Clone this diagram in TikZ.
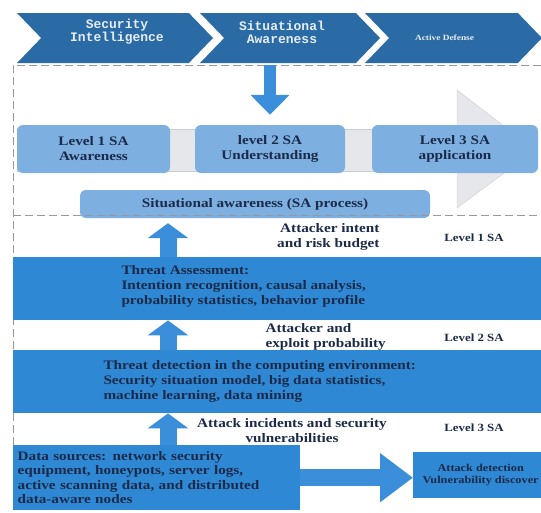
\documentclass[tikz,border=0pt]{standalone}
\usepackage{fontspec}
\setmainfont{Liberation Serif}[FakeStretch=1.17]
\setmonofont{Liberation Mono}
\usepackage{tikz}
\usetikzlibrary{arrows.meta,calc,positioning,shapes.symbols}
\definecolor{bannerBlue}{HTML}{2B6BA5}
\definecolor{bandBlue}{HTML}{2F88D4}
\definecolor{arrowBlue}{HTML}{3A8EDA}
\definecolor{paleBlue}{HTML}{7DB0E1}
\definecolor{navyText}{HTML}{1B2A48}
\definecolor{greyBand}{HTML}{E5E7EB}
\definecolor{greyEdge}{HTML}{C9CCD2}

\begin{document}
\begin{tikzpicture}[x=1pt, y=-1pt,
  every node/.style={font=\bfseries\fontsize{13}{15}\selectfont, text=navyText},
  banner/.style={signal, signal from=west, signal to=east, signal pointer angle=92,
    fill=bannerBlue, minimum height=50pt, inner sep=0pt},
  bannerText/.style={text=white!88!bannerBlue, align=center},
  levelBox/.style={fill=paleBlue, rounded corners=6pt, minimum height=48pt, align=center, inner sep=0pt},
  band/.style={fill=bandBlue, minimum width=528pt, minimum height=63pt, inner sep=0pt, anchor=north west},
  levelTag/.style={font=\bfseries\fontsize{11}{13}\selectfont},
  frameDash/.style={draw=gray!80, line width=1pt, dash pattern=on 8pt off 4pt},
  blockUp/.style={arrowBlue, line width=17pt, -{Triangle[width=40pt,length=15pt]}},
  blockDown/.style={arrowBlue, line width=12pt, -{Triangle[width=38pt,length=20pt]}},
  blockRight/.style={arrowBlue, line width=17pt, -{Triangle[width=47pt,length=33pt]}}]
\clip (0,0) rectangle (541,512);

% top banner
\node[banner, minimum width=196pt] (secIntel) at (115,38) {};
\node[banner, minimum width=180pt] (sitAware) at (290,38) {};
\node[banner, minimum width=177pt] (actDef) at (453.5,38) {};
\node[bannerText, font=\ttfamily\bfseries\fontsize{13}{13}\selectfont] (secIntelText) at ([shift={(2,-6)}]secIntel.center) {Security\\Intelligence};
\node[bannerText, font=\ttfamily\bfseries\fontsize{13}{13}\selectfont] (sitAwareText) at ([shift={(-8,-6)}]sitAware.center) {Situational\\Awareness};
\node[bannerText, font=\bfseries\fontsize{8}{10}\selectfont] (actDefText) at ([shift={(-9,0)}]actDef.center) {Active Defense};

% grey process arrow behind the SA levels
\filldraw[fill=greyBand, draw=greyEdge] (17,129) rectangle (457,171);
\filldraw[fill=greyBand, draw=greyEdge] (457,90) -- (535,150) -- (457,208) -- cycle;

\node[levelBox, minimum width=153pt] (lvlOne) at (93.5,149) {Level 1 SA\\Awareness};
\node[levelBox, minimum width=150pt] (lvlTwo) at (270,149) {level 2 SA\\Understanding};
\node[levelBox, minimum width=166pt] (lvlThree) at (455,149) {Level 3 SA\\application};
\node[levelBox, minimum width=350pt, minimum height=28pt] (saProc) at (255,204) {Situational awareness (SA process)};

% dashed frame
\coordinate (frameTL) at (13,65);
\coordinate (frameML) at (13,215);
\coordinate (frameBL) at (13,445);
\draw[frameDash] (541,65) -- (frameTL) -- (frameBL);
\draw[frameDash] (frameML) -- (541,215);

% layers
\node[band] (assessBand) at (13,257) {};
\node[anchor=west, align=left] (assessText) at ([xshift=105pt,yshift=2pt]assessBand.west) {Threat Assessment:\\Intention recognition, causal analysis,\\probability statistics, behavior profile};
\node[band] (detectBand) at (13,350) {};
\node[anchor=west, align=left] (detectText) at ([xshift=87pt]detectBand.west) {Threat detection in the computing environment:\\Security situation model, big data statistics,\\machine learning, data mining};
\node[fill=bandBlue, anchor=north west, minimum width=287pt, minimum height=65pt, text width=278pt, inner sep=4.5pt, align=left, font=\bfseries\fontsize{13}{14.5}\selectfont] (dataSrc) at (13,445) {Data sources: network security\\equipment, honeypots, server logs,\\active scanning data, and distributed\\data-aware nodes};
\node[fill=bandBlue, anchor=north west, minimum width=135pt, minimum height=46pt, inner sep=0pt, align=center, font=\bfseries\fontsize{10.5}{12}\selectfont] (attackBox) at (413,452) {Attack detection\\Vulnerability discover};

% labels between layers
\node[anchor=east, align=right] (intentText) at (383,236.5) {Attacker intent\\and risk budget};
\node[levelTag] (tagOne) at (474,238) {Level 1 SA};
\node[anchor=west, align=left] (exploitText) at (262,336.5) {Attacker and\\exploit probability};
\node[levelTag] (tagTwo) at (474,338) {Level 2 SA};
\node[align=center] (incidentText) at (292,430.5) {Attack incidents and security\\vulnerabilities};
\node[levelTag] (tagThree) at (474,428) {Level 3 SA};

% block arrows
\coordinate (upX) at (168,0);
\draw[blockDown] (lvlTwo.north |- frameTL) -- ([yshift=10pt]lvlTwo.north);
\draw[blockUp] (upX |- assessBand.north) -- ($(upX |- saProc.south)+(0,5)$);
\draw[blockUp] (upX |- detectBand.north) -- (upX |- assessBand.south);
\draw[blockUp] (upX |- dataSrc.north) -- (upX |- detectBand.south);
\draw[blockRight] (dataSrc.east) -- (dataSrc.east -| attackBox.west);
\end{tikzpicture}
\end{document}
